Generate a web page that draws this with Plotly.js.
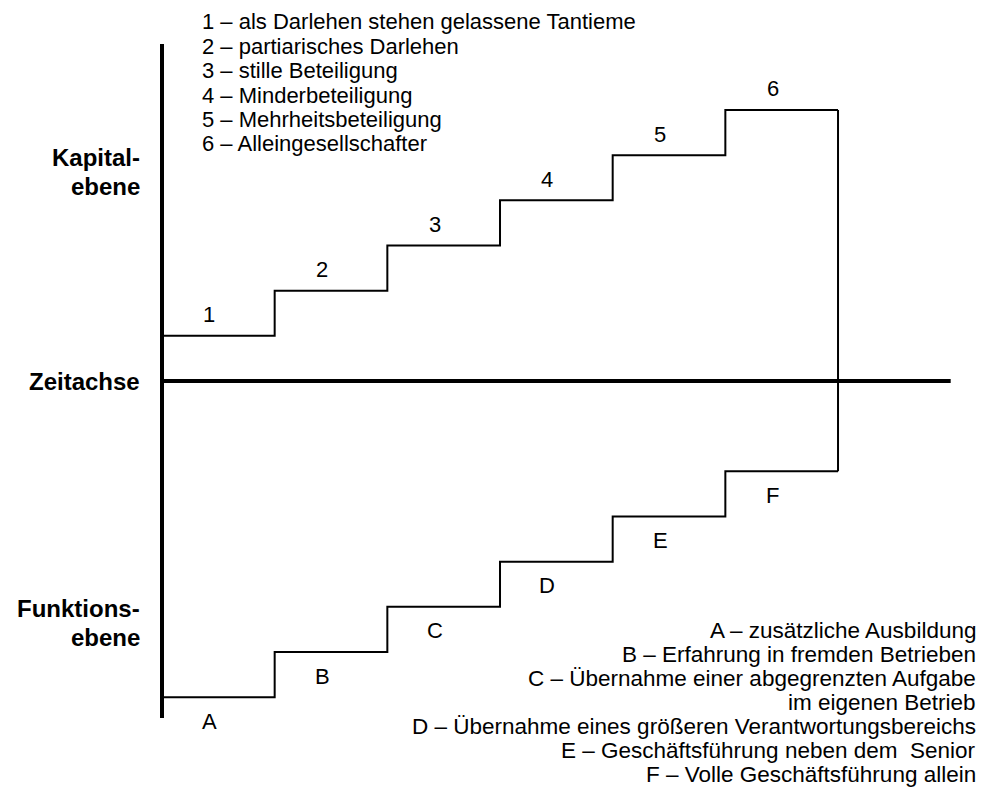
<!DOCTYPE html>
<html>
<head>
<meta charset="utf-8">
<script src="https://cdn.plot.ly/plotly-3.0.1.min.js"></script>
<style>html,body{margin:0;padding:0;background:#fff;}#chart{width:982px;height:795px;}</style>
</head>
<body>
<div id="chart"></div>
<script>
// ---- data ----
const stepStarts = [0, 1, 2, 3, 4, 5];
const stepEnd = 6;
const timeAxisEnd = 7;
const capitalLevels = [1, 2, 3, 4, 5, 6];
const capitalLabels = ['1', '2', '3', '4', '5', '6'];
const functionLevels = [-7, -6, -5, -4, -3, -2];
const functionLabels = ['A', 'B', 'C', 'D', 'E', 'F'];
const verticalAxisExtent = 7.46;
const capitalNotes = [
  '1 – als Darlehen stehen gelassene Tantieme',
  '2 – partiarisches Darlehen',
  '3 – stille Beteiligung',
  '4 – Minderbeteiligung',
  '5 – Mehrheitsbeteiligung',
  '6 – Alleingesellschafter'
];
const functionNotes = [
  'A – zusätzliche Ausbildung',
  'B – Erfahrung in fremden Betrieben',
  'C – Übernahme einer abgegrenzten Aufgabe',
  'im eigenen Betrieb',
  'D – Übernahme eines größeren Verantwortungsbereichs',
  'E – Geschäftsführung neben dem&nbsp; Senior',
  'F – Volle Geschäftsführung allein'
];
const capitalTitle = ['Kapital-', 'ebene'];
const timeTitle = 'Zeitachse';
const functionTitle = ['Funktions-', 'ebene'];

// ---- layout helpers ----
const W = 982, H = 795;
const px = p => p / W;
const py = p => 1 - p / H;
const FONT = 'Liberation Sans, Arial, sans-serif';
const black = '#000';

const capX = stepStarts.concat([stepEnd]);
const capY = capitalLevels.concat([capitalLevels[capitalLevels.length - 1]]);
const funX = stepStarts.concat([stepEnd]);
const funY = functionLevels.concat([functionLevels[functionLevels.length - 1]]);

const traces = [
  { x: [0, timeAxisEnd], y: [0, 0], mode: 'lines', line: { color: black, width: 4 } },
  { x: [0, 0], y: [-verticalAxisExtent, verticalAxisExtent], mode: 'lines', line: { color: black, width: 4 } },
  { x: capX, y: capY, mode: 'lines', line: { color: black, width: 2, shape: 'hv' } },
  { x: funX, y: funY, mode: 'lines', line: { color: black, width: 2, shape: 'hv' } },
  { x: [stepEnd, stepEnd], y: [capitalLevels[capitalLevels.length - 1], functionLevels[functionLevels.length - 1]],
    mode: 'lines', line: { color: black, width: 2 } }
];

const ann = [];
stepStarts.forEach((s, i) => {
  ann.push({ x: s + 0.5, y: capitalLevels[i], xref: 'x', yref: 'y', text: capitalLabels[i],
    showarrow: false, xshift: -9, yshift: 21, font: { family: FONT, size: 22, color: black } });
  ann.push({ x: s + 0.5, y: functionLevels[i], xref: 'x', yref: 'y', text: functionLabels[i],
    showarrow: false, xshift: -9, yshift: -24, font: { family: FONT, size: 22, color: black } });
});
function textLine(t, xp, yp, anchor, size, bold) {
  ann.push({ x: px(xp), y: py(yp), xref: 'paper', yref: 'paper', xanchor: anchor, yanchor: 'middle',
    showarrow: false, text: bold ? '<b>' + t + '</b>' : t, font: { family: FONT, size: size, color: black } });
}
capitalNotes.forEach((t, i) => textLine(t, 200, 22 + i * 24.4, 'left', 22, false));
functionNotes.forEach((t, i) => textLine(t, 978, 630 + i * 24, 'right', 22.5, false));
capitalTitle.forEach((t, i) => textLine(t, 142, 158 + i * 29, 'right', 24, true));
textLine(timeTitle, 142, 381, 'right', 24, true);
functionTitle.forEach((t, i) => textLine(t, 142, 608 + i * 29, 'right', 24, true));

const unitX = 112.67, x0px = 162;
const unitY = 45.17, y0px = 381;
const layout = {
  width: W, height: H,
  margin: { l: 0, r: 0, t: 0, b: 0 },
  paper_bgcolor: '#fff', plot_bgcolor: '#fff',
  showlegend: false, hovermode: false,
  xaxis: { range: [-x0px / unitX, (W - x0px) / unitX], visible: false, fixedrange: true },
  yaxis: { range: [-(H - y0px) / unitY, y0px / unitY], visible: false, fixedrange: true },
  annotations: ann
};
Plotly.newPlot('chart', traces, layout, { staticPlot: true, displayModeBar: false });
</script>
</body>
</html>
